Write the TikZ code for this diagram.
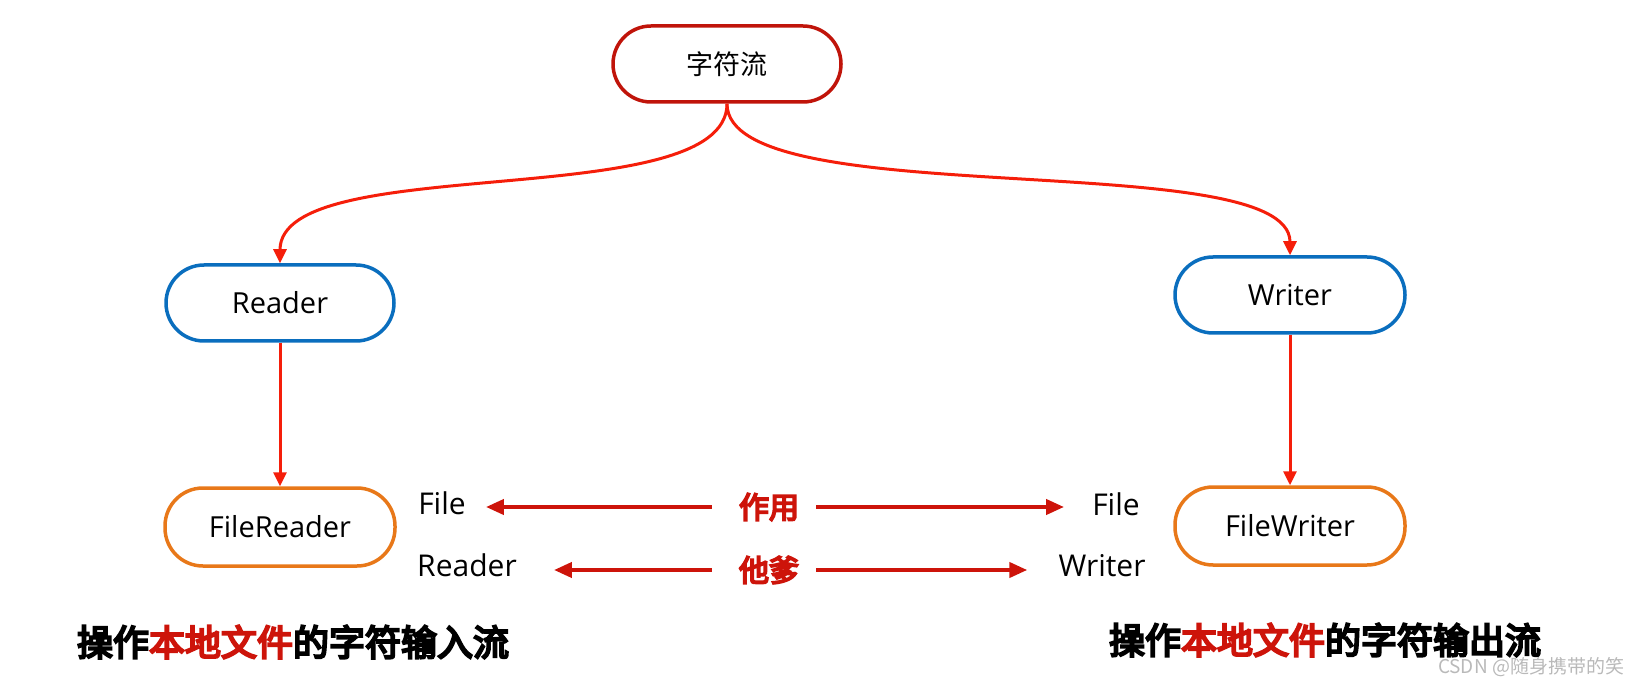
\documentclass[tikz,border=0pt]{standalone}
\usepackage{fontspec}
\setmainfont{Open Sans}
\newfontfamily\cjk{Noto Sans CJK SC}
\newfontfamily\cjkheavy[FakeBold=6]{Noto Sans CJK SC}
\usetikzlibrary{arrows.meta}
\definecolor{topred}{RGB}{192,20,10}
\definecolor{linkred}{RGB}{245,30,10}
\definecolor{midred}{RGB}{205,20,10}
\definecolor{nodeblue}{RGB}{10,110,190}
\definecolor{nodeorange}{RGB}{232,120,25}
\definecolor{wm}{RGB}{185,185,185}
\tikzset{
  pill/.style={draw, line width=3.5pt, fill=white, rounded corners=38pt,
    minimum width=228pt, minimum height=76pt, inner sep=0pt, font=\fontsize{29}{32}\selectfont},
  link/.style={draw=linkred, line width=3pt, -{Triangle[length=14pt,width=13pt]}},
  midlink/.style={draw=midred, line width=4pt, -{Triangle[length=18pt,width=15pt]}},
  side/.style={inner sep=0pt, font=\fontsize{30}{32}\selectfont},
  mid/.style={inner sep=0pt, text=midred, font=\cjkheavy\fontsize{30}{32}\selectfont},
  big/.style={inner sep=0pt, font=\cjkheavy\fontsize{36}{40}\selectfont}
}
\begin{document}
\begin{tikzpicture}[x=1pt,y=-1pt]
\useasboundingbox (0,0) rectangle (1643,684);
\node[pill, draw=topred, font=\cjk\fontsize{27}{30}\selectfont] (top) at (727,64) {字符流};
\node[pill, draw=nodeblue] (reader) at (280,303) {Reader};
\node[pill, draw=nodeblue, minimum width=230pt] (writer) at (1290,295) {Writer};
\node[pill, draw=nodeorange, minimum width=230pt, minimum height=78pt] (freader) at (280,527) {FileReader};
\node[pill, draw=nodeorange, minimum width=230pt, minimum height=78pt] (fwriter) at (1290,526) {FileWriter};

\draw[link] (top.south) .. controls (727,215) and (280,150) .. (reader.north);
\draw[link] (top.south) .. controls (727,215) and (1290,145) .. (writer.north);
\draw[link] (reader.south) -- (freader.north);
\draw[link] (writer.south) -- (fwriter.north);

\node[side] (lfile) at (442,503) {File};
\node[side] (rfile) at (1116,504) {File};
\node[side] (lreader) at (467,565) {Reader};
\node[side] (rwriter) at (1102,566) {Writer};
\node[mid] (zy) at (769,507) {作用};
\node[mid] (td) at (769,570) {他爹};

\draw[midlink, shorten <=27pt, shorten >=20pt] (zy.west) -- (lfile.east |- zy.west);
\draw[midlink, shorten <=17pt, shorten >=28pt] (zy.east) -- (rfile.west |- zy.east);
\draw[midlink, shorten <=27pt, shorten >=37pt] (td.west) -- (lreader.east |- td.west);
\draw[midlink, shorten <=17pt, shorten >=31pt] (td.east) -- (rwriter.west |- td.east);

\node[big] (lbottom) at (293,642) {操作\textcolor{midred}{本地文件}的字符输入流};
\node[big] (rbottom) at (1325,640) {操作\textcolor{midred}{本地文件}的字符输出流};
\node[inner sep=0pt, text=wm, font=\cjk\fontsize{19}{22}\selectfont] (mark) at (1531,667) {CSDN @随身携带的笑};
\end{tikzpicture}
\end{document}
